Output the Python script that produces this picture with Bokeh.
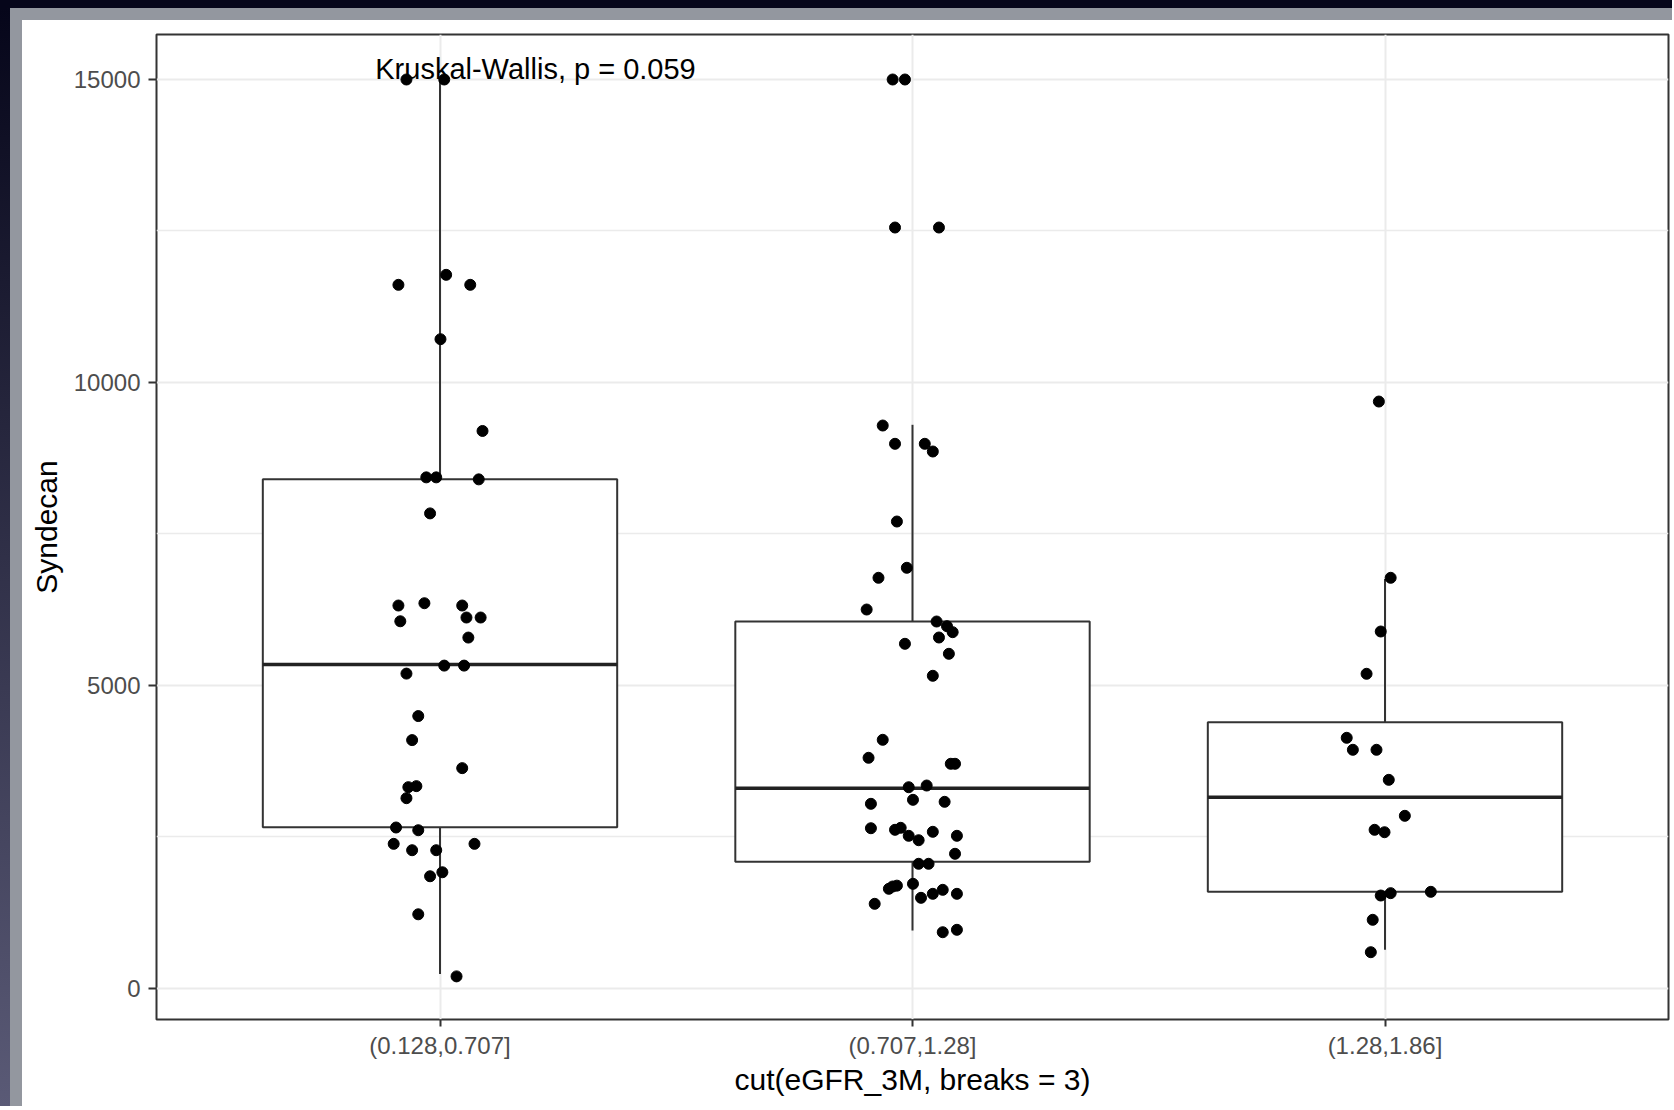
import numpy as np
from bokeh.plotting import figure
from bokeh.models import Range1d, FixedTicker, Div
from bokeh.layouts import column, row
from bokeh.embed import file_html
from bokeh.resources import INLINE
from bokeh.core.properties import value

# ---------------- data ----------------
categories = ["(0.128,0.707]", "(0.707,1.28]", "(1.28,1.86]"]
x_title = "cut(eGFR_3M, breaks = 3)"
y_title = "Syndecan"
test_label = "Kruskal-Wallis, p = 0.059"
y_ticks = [0, 5000, 10000, 15000]
y_minor = [2500, 7500, 12500]

# box statistics per category
whisker_low = [231, 949, 630]
q1 = [2655, 2084, 1588]
median = [5340, 3299, 3150]
q3 = [8398, 6051, 4389]
whisker_high = [15000, 9299, 6753]

# jittered points (value, horizontal jitter in category units)
g1_values = [15000, 15000, 11775, 11610, 11610, 10712, 9197, 8431, 8431, 8398,
             7836, 6315, 6353, 6315, 6055, 6117, 6117, 5786, 5323, 5323,
             5191, 4490, 4093, 3630, 3316, 3333, 3134, 2650, 2605, 2380,
             2275, 2275, 2380, 1845, 1911, 1217, 192]
g1_jitter = [-0.071, 0.009, 0.013, -0.088, 0.064, 0.001, 0.090, -0.029, -0.008, 0.082,
             -0.021, -0.088, -0.033, 0.047, -0.084, 0.056, 0.086, 0.060, 0.009, 0.051,
             -0.071, -0.046, -0.059, 0.047, -0.067, -0.050, -0.071, -0.093, -0.046, -0.098,
             -0.059, -0.008, 0.073, -0.021, 0.005, -0.046, 0.035]

g2_values = [15000, 15000, 12556, 12556, 9287, 8985, 8985, 8858, 7702, 6938,
             6773, 6249, 6051, 5974, 5875, 5787, 5683, 5518, 5155, 4098,
             3801, 3702, 3702, 3315, 3343, 3107, 3041, 3074, 2638, 2612,
             2645, 2513, 2440, 2579, 2513, 2216, 2051, 2051, 1720, 1690,
             1676, 1638, 1390, 1489, 1555, 1621, 1555, 921, 961]
g2_jitter = [-0.042, -0.016, -0.037, 0.056, -0.063, -0.037, 0.026, 0.043, -0.033, -0.012,
             -0.072, -0.097, 0.051, 0.073, 0.085, 0.056, -0.016, 0.077, 0.043, -0.063,
             -0.093, 0.081, 0.090, -0.008, 0.030, 0.001, -0.088, 0.068, -0.088, -0.037,
             -0.025, -0.008, 0.013, 0.043, 0.094, 0.090, 0.013, 0.034, 0.001, -0.033,
             -0.042, -0.050, -0.080, 0.018, 0.043, 0.064, 0.094, 0.064, 0.094]

g3_values = [9683, 6773, 5886, 5188, 4131, 3933, 3933, 3437, 2843, 2612,
             2572, 1527, 1566, 1588, 1126, 591]
g3_jitter = [-0.013, 0.012, -0.009, -0.039, -0.081, -0.068, -0.018, 0.008, 0.042, -0.022,
             -0.001, -0.009, 0.012, 0.097, -0.026, -0.030]

# ---------------- figure ----------------
FONT = "Liberation Sans"
INK = "#333333"
GRID = "#EBEBEB"

positions = list(range(1, len(categories) + 1))
box_width = 0.75

W, H = 1650, 1088
p = figure(width=W, height=H, output_backend="svg", toolbar_location=None,
           x_range=Range1d(0.4, 3.6), y_range=Range1d(-520, 15743),
           min_border_left=134, min_border_right=4, min_border_top=14,
           min_border_bottom=89, background_fill_color="white",
           border_fill_color="white", margin=0)
p.outline_line_color = INK
p.outline_line_width = 2

# grids
p.xgrid.ticker = FixedTicker(ticks=positions)
p.ygrid.ticker = FixedTicker(ticks=y_ticks, minor_ticks=y_minor)
p.xgrid.grid_line_color = GRID
p.xgrid.grid_line_width = 2
p.ygrid.grid_line_color = GRID
p.ygrid.grid_line_width = 2
p.ygrid.minor_grid_line_color = GRID
p.ygrid.minor_grid_line_width = 1.5

# axes
p.xaxis.ticker = FixedTicker(ticks=positions)
p.xaxis.major_label_overrides = {pos: cat for pos, cat in zip(positions, categories)}
p.yaxis.ticker = FixedTicker(ticks=y_ticks, minor_ticks=y_minor)
for ax in (p.xaxis[0], p.yaxis[0]):
    ax.axis_line_color = None
    ax.major_tick_line_color = INK
    ax.major_tick_line_width = 2
    ax.major_tick_in = 0
    ax.minor_tick_in = 0
    ax.minor_tick_out = 0
    ax.major_label_text_font = FONT
    ax.major_label_text_font_size = "24px"
    ax.major_label_text_color = "#4D4D4D"
    ax.axis_label_text_font = FONT
    ax.axis_label_text_font_size = "30px"
    ax.axis_label_text_font_style = "normal"
    ax.axis_label_text_color = "black"
p.xaxis.major_tick_out = 7
p.xaxis.major_label_standoff = 5
p.xaxis.axis_label_standoff = 1
p.xaxis.axis_label = x_title
p.yaxis.major_tick_out = 8
p.yaxis.major_label_standoff = 8
p.yaxis.axis_label_standoff = 8
p.yaxis.axis_label = y_title

# whiskers
p.segment(x0=positions, y0=q3, x1=positions, y1=whisker_high, line_color=INK, line_width=2)
p.segment(x0=positions, y0=q1, x1=positions, y1=whisker_low, line_color=INK, line_width=2)
# boxes
p.vbar(x=positions, width=box_width, bottom=q1, top=q3, fill_color="white",
       line_color=INK, line_width=2)
# medians
left = [x - box_width / 2 for x in positions]
right = [x + box_width / 2 for x in positions]
p.segment(x0=left, y0=median, x1=right, y1=median, line_color="#222222", line_width=3.5)

# jittered points
xs, ys = [], []
for pos, vals, jit in zip(positions, [g1_values, g2_values, g3_values],
                          [g1_jitter, g2_jitter, g3_jitter]):
    xs += [pos + j for j in jit]
    ys += vals
p.scatter(x=xs, y=ys, size=11, fill_color="black", line_color="black")

# test annotation (anchored at the top of the data)
p.text(x=[0.863], y=[max(whisker_high)], text=[test_label],
       text_font=value(FONT), text_font_size="29px", text_color="black",
       text_baseline="alphabetic", text_align="left", y_offset=-11)

# screenshot frame strips
DARK = "#06061a"
GRAY = "#93979f"
top_dark = Div(width=1672, height=8, margin=0, styles={"background-color": DARK})
left_dark = Div(width=10, height=1098, margin=0,
                styles={"background": "linear-gradient(#06061a, #5a5a76)"})
top_gray = Div(width=1662, height=12, margin=0, styles={"background-color": GRAY})
left_gray = Div(width=12, height=1086, margin=0, styles={"background-color": GRAY})
inner = column(top_gray, row(left_gray, p, spacing=0, margin=0), spacing=0, margin=0)
layout = column(top_dark, row(left_dark, inner, spacing=0, margin=0), spacing=0, margin=0)

open("out.html", "w").write(file_html(layout, INLINE))
